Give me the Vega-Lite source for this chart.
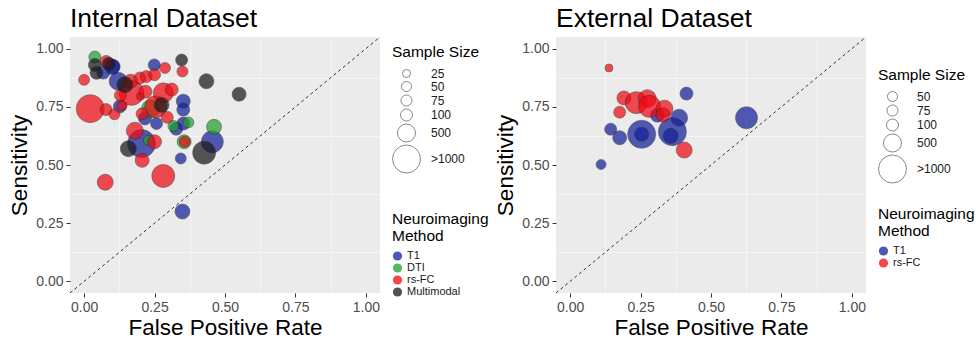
{
  "$schema": "https://vega.github.io/schema/vega-lite/v6.json",
  "padding": {"left": 8, "top": 6, "right": 0, "bottom": 0},
  "config": {
    "font": "Liberation Sans",
    "view": {"fill": "#EBEBEB", "stroke": null},
    "axis": {
      "domain": false, "labelColor": "#4D4D4D", "labelFontSize": 14, "tickColor": "#333333", "tickSize": 4,
      "gridColor": "#FFFFFF", "gridWidth": 1.2, "titleFontSize": 22.5, "titleFontWeight": "normal", "titleColor": "#000000",
      "labelPadding": 3
    },
    "legend": {"titleFontWeight": "normal", "titleColor": "#000000", "labelColor": "#1A1A1A", "padding": 0},
    "title": {"fontWeight": "normal", "color": "#000000"}
  },
  "resolve": {"scale": {"color": "independent", "size": "independent"}, "legend": {"color": "independent", "size": "independent"}},
  "datasets": {
    "diag": [{"x": -0.05, "y": -0.05, "x2": 1.05, "y2": 1.05}],
    "internal": [
      {"fpr": 0.100, "sens": 0.920, "n": 280, "method": "T1"},
      {"fpr": 0.103, "sens": 0.924, "n": 216, "method": "T1"},
      {"fpr": 0.068, "sens": 0.897, "n": 156, "method": "T1"},
      {"fpr": 0.121, "sens": 0.860, "n": 500, "method": "T1"},
      {"fpr": 0.249, "sens": 0.930, "n": 100, "method": "T1"},
      {"fpr": 0.352, "sens": 0.774, "n": 216, "method": "T1"},
      {"fpr": 0.352, "sens": 0.738, "n": 156, "method": "T1"},
      {"fpr": 0.127, "sens": 0.752, "n": 156, "method": "T1"},
      {"fpr": 0.216, "sens": 0.700, "n": 156, "method": "T1"},
      {"fpr": 0.257, "sens": 0.678, "n": 100, "method": "T1"},
      {"fpr": 0.327, "sens": 0.656, "n": 156, "method": "T1"},
      {"fpr": 0.352, "sens": 0.678, "n": 156, "method": "T1"},
      {"fpr": 0.455, "sens": 0.600, "n": 674, "method": "T1"},
      {"fpr": 0.204, "sens": 0.592, "n": 1200, "method": "T1"},
      {"fpr": 0.343, "sens": 0.528, "n": 75, "method": "T1"},
      {"fpr": 0.349, "sens": 0.300, "n": 280, "method": "T1"},
      {"fpr": 0.038, "sens": 0.964, "n": 100, "method": "DTI"},
      {"fpr": 0.236, "sens": 0.742, "n": 500, "method": "DTI"},
      {"fpr": 0.317, "sens": 0.668, "n": 75, "method": "DTI"},
      {"fpr": 0.370, "sens": 0.683, "n": 75, "method": "DTI"},
      {"fpr": 0.461, "sens": 0.664, "n": 280, "method": "DTI"},
      {"fpr": 0.355, "sens": 0.600, "n": 216, "method": "DTI"},
      {"fpr": 0.228, "sens": 0.606, "n": 50, "method": "DTI"},
      {"fpr": 0.078, "sens": 0.945, "n": 100, "method": "rs-FC"},
      {"fpr": 0.000, "sens": 0.866, "n": 75, "method": "rs-FC"},
      {"fpr": 0.168, "sens": 0.810, "n": 827, "method": "rs-FC"},
      {"fpr": 0.200, "sens": 0.795, "n": 25, "method": "rs-FC"},
      {"fpr": 0.129, "sens": 0.800, "n": 100, "method": "rs-FC"},
      {"fpr": 0.165, "sens": 0.860, "n": 216, "method": "rs-FC"},
      {"fpr": 0.198, "sens": 0.874, "n": 100, "method": "rs-FC"},
      {"fpr": 0.221, "sens": 0.880, "n": 100, "method": "rs-FC"},
      {"fpr": 0.250, "sens": 0.888, "n": 100, "method": "rs-FC"},
      {"fpr": 0.287, "sens": 0.917, "n": 75, "method": "rs-FC"},
      {"fpr": 0.349, "sens": 0.902, "n": 75, "method": "rs-FC"},
      {"fpr": 0.022, "sens": 0.742, "n": 1200, "method": "rs-FC"},
      {"fpr": 0.078, "sens": 0.738, "n": 100, "method": "rs-FC"},
      {"fpr": 0.108, "sens": 0.718, "n": 75, "method": "rs-FC"},
      {"fpr": 0.135, "sens": 0.755, "n": 50, "method": "rs-FC"},
      {"fpr": 0.254, "sens": 0.750, "n": 674, "method": "rs-FC"},
      {"fpr": 0.281, "sens": 0.810, "n": 583, "method": "rs-FC"},
      {"fpr": 0.311, "sens": 0.824, "n": 156, "method": "rs-FC"},
      {"fpr": 0.206, "sens": 0.720, "n": 100, "method": "rs-FC"},
      {"fpr": 0.295, "sens": 0.705, "n": 100, "method": "rs-FC"},
      {"fpr": 0.180, "sens": 0.647, "n": 422, "method": "rs-FC"},
      {"fpr": 0.250, "sens": 0.600, "n": 216, "method": "rs-FC"},
      {"fpr": 0.206, "sens": 0.520, "n": 216, "method": "rs-FC"},
      {"fpr": 0.281, "sens": 0.453, "n": 723, "method": "rs-FC"},
      {"fpr": 0.075, "sens": 0.426, "n": 349, "method": "rs-FC"},
      {"fpr": 0.357, "sens": 0.600, "n": 75, "method": "rs-FC"},
      {"fpr": 0.218, "sens": 0.815, "n": 156, "method": "rs-FC"},
      {"fpr": 0.038, "sens": 0.930, "n": 156, "method": "Multimodal"},
      {"fpr": 0.044, "sens": 0.896, "n": 156, "method": "Multimodal"},
      {"fpr": 0.088, "sens": 0.935, "n": 156, "method": "Multimodal"},
      {"fpr": 0.145, "sens": 0.845, "n": 349, "method": "Multimodal"},
      {"fpr": 0.346, "sens": 0.951, "n": 100, "method": "Multimodal"},
      {"fpr": 0.434, "sens": 0.860, "n": 280, "method": "Multimodal"},
      {"fpr": 0.550, "sens": 0.804, "n": 216, "method": "Multimodal"},
      {"fpr": 0.275, "sens": 0.758, "n": 280, "method": "Multimodal"},
      {"fpr": 0.157, "sens": 0.570, "n": 349, "method": "Multimodal"},
      {"fpr": 0.426, "sens": 0.553, "n": 723, "method": "Multimodal"}
    ],
    "external": [
      {"fpr": 0.413, "sens": 0.807, "n": 156, "method": "T1"},
      {"fpr": 0.387, "sens": 0.703, "n": 422, "method": "T1"},
      {"fpr": 0.310, "sens": 0.714, "n": 216, "method": "T1"},
      {"fpr": 0.144, "sens": 0.654, "n": 100, "method": "T1"},
      {"fpr": 0.176, "sens": 0.617, "n": 216, "method": "T1"},
      {"fpr": 0.254, "sens": 0.632, "n": 1000, "method": "T1"},
      {"fpr": 0.254, "sens": 0.632, "n": 216, "method": "T1"},
      {"fpr": 0.363, "sens": 0.643, "n": 1200, "method": "T1"},
      {"fpr": 0.357, "sens": 0.625, "n": 280, "method": "T1"},
      {"fpr": 0.626, "sens": 0.703, "n": 674, "method": "T1"},
      {"fpr": 0.110, "sens": 0.502, "n": 50, "method": "T1"},
      {"fpr": 0.138, "sens": 0.917, "n": 25, "method": "rs-FC"},
      {"fpr": 0.191, "sens": 0.788, "n": 216, "method": "rs-FC"},
      {"fpr": 0.176, "sens": 0.727, "n": 100, "method": "rs-FC"},
      {"fpr": 0.235, "sens": 0.768, "n": 674, "method": "rs-FC"},
      {"fpr": 0.274, "sens": 0.785, "n": 500, "method": "rs-FC"},
      {"fpr": 0.282, "sens": 0.752, "n": 674, "method": "rs-FC"},
      {"fpr": 0.335, "sens": 0.742, "n": 422, "method": "rs-FC"},
      {"fpr": 0.330, "sens": 0.715, "n": 216, "method": "rs-FC"},
      {"fpr": 0.405, "sens": 0.564, "n": 349, "method": "rs-FC"}
    ]
  },
  "bounds": "flush",
  "spacing": 176,
  "hconcat": [
    {
      "width": 310, "height": 256,
      "title": {"text": "Internal Dataset", "anchor": "start", "frame": "group", "fontSize": 26.5, "offset": 4},
      "layer": [
        {
          "data": {"name": "diag"},
          "mark": {"type": "rule", "strokeDash": [3, 3], "color": "#333333", "strokeWidth": 1},
          "encoding": {
            "x": {"field": "x", "type": "quantitative", "scale": {"domain": [-0.05, 1.05], "nice": false, "zero": false},
                  "axis": {"orient": "top", "values": [0.125, 0.375, 0.625, 0.875], "labels": false, "ticks": false, "title": null, "grid": true, "gridWidth": 0.5}},
            "y": {"field": "y", "type": "quantitative", "scale": {"domain": [-0.05, 1.05], "nice": false, "zero": false},
                  "axis": {"orient": "right", "values": [0.125, 0.375, 0.625, 0.875], "labels": false, "ticks": false, "title": null, "grid": true, "gridWidth": 0.5}},
            "x2": {"field": "x2"},
            "y2": {"field": "y2"}
          }
        },
        {
          "data": {"name": "internal"},
          "mark": {"type": "circle", "opacity": 0.72, "stroke": "#222222", "strokeWidth": 0.6},
          "encoding": {
            "x": {"field": "fpr", "type": "quantitative", "scale": {"domain": [-0.05, 1.05], "nice": false, "zero": false},
                  "axis": {"orient": "bottom", "title": "False Positive Rate", "values": [0, 0.25, 0.5, 0.75, 1], "format": ".2f", "titlePadding": 2}},
            "y": {"field": "sens", "type": "quantitative", "scale": {"domain": [-0.05, 1.05], "nice": false, "zero": false},
                  "axis": {"orient": "left", "title": "Sensitivity", "values": [0, 0.25, 0.5, 0.75, 1], "format": ".2f", "titlePadding": 4}},
            "size": {"field": "n", "type": "quantitative",
                     "scale": {"type": "linear", "domain": [25, 50, 75, 100, 500, 1000], "range": [64, 100, 121, 144, 324, 784], "clamp": true},
                     "legend": {"title": "Sample Size", "orient": "none", "legendX": 322, "legendY": 8, "values": [25, 50, 75, 100, 500, 1000],
                                "labelExpr": "datum.value >= 1000 ? '>1000' : datum.label", "symbolType": "circle",
                                "symbolFillColor": "transparent", "symbolStrokeColor": "#555555", "symbolStrokeWidth": 0.7, "symbolOpacity": 1,
                                "titleFontSize": 15.5, "labelFontSize": 12, "rowPadding": 0, "titlePadding": 7, "labelOffset": 10}},
            "color": {"field": "method", "type": "nominal",
                      "scale": {"domain": ["T1", "DTI", "rs-FC", "Multimodal"], "range": ["#14209A", "#20A030", "#F00A14", "#1A1A1A"]},
                      "legend": {"title": ["Neuroimaging", "Method"], "orient": "none", "legendX": 322, "legendY": 175, "symbolType": "circle",
                                 "symbolSize": 85, "symbolStrokeWidth": 0, "symbolOpacity": 0.75, "labelFontSize": 11, "titleFontSize": 15.5,
                                 "rowPadding": 0, "titlePadding": 6, "titleLineHeight": 17}}
          }
        }
      ],
      "resolve": {"axis": {"x": "independent", "y": "independent"}}
    },
    {
      "width": 310, "height": 256,
      "title": {"text": "External Dataset", "anchor": "start", "frame": "group", "fontSize": 26.5, "offset": 4},
      "layer": [
        {
          "data": {"name": "diag"},
          "mark": {"type": "rule", "strokeDash": [3, 3], "color": "#333333", "strokeWidth": 1},
          "encoding": {
            "x": {"field": "x", "type": "quantitative", "scale": {"domain": [-0.05, 1.05], "nice": false, "zero": false},
                  "axis": {"orient": "top", "values": [0.125, 0.375, 0.625, 0.875], "labels": false, "ticks": false, "title": null, "grid": true, "gridWidth": 0.5}},
            "y": {"field": "y", "type": "quantitative", "scale": {"domain": [-0.05, 1.05], "nice": false, "zero": false},
                  "axis": {"orient": "right", "values": [0.125, 0.375, 0.625, 0.875], "labels": false, "ticks": false, "title": null, "grid": true, "gridWidth": 0.5}},
            "x2": {"field": "x2"},
            "y2": {"field": "y2"}
          }
        },
        {
          "data": {"name": "external"},
          "mark": {"type": "circle", "opacity": 0.72, "stroke": "#222222", "strokeWidth": 0.6},
          "encoding": {
            "x": {"field": "fpr", "type": "quantitative", "scale": {"domain": [-0.05, 1.05], "nice": false, "zero": false},
                  "axis": {"orient": "bottom", "title": "False Positive Rate", "values": [0, 0.25, 0.5, 0.75, 1], "format": ".2f", "titlePadding": 2}},
            "y": {"field": "sens", "type": "quantitative", "scale": {"domain": [-0.05, 1.05], "nice": false, "zero": false},
                  "axis": {"orient": "left", "title": "Sensitivity", "values": [0, 0.25, 0.5, 0.75, 1], "format": ".2f", "titlePadding": 4}},
            "size": {"field": "n", "type": "quantitative",
                     "scale": {"type": "linear", "domain": [25, 50, 75, 100, 500, 1000], "range": [64, 100, 121, 144, 324, 784], "clamp": true},
                     "legend": {"title": "Sample Size", "orient": "none", "legendX": 322, "legendY": 31, "values": [50, 75, 100, 500, 1000],
                                "labelExpr": "datum.value >= 1000 ? '>1000' : datum.label", "symbolType": "circle",
                                "symbolFillColor": "transparent", "symbolStrokeColor": "#555555", "symbolStrokeWidth": 0.7, "symbolOpacity": 1,
                                "titleFontSize": 15.5, "labelFontSize": 12, "rowPadding": 0, "titlePadding": 7, "labelOffset": 10}},
            "color": {"field": "method", "type": "nominal",
                      "scale": {"domain": ["T1", "rs-FC"], "range": ["#14209A", "#F00A14"]},
                      "legend": {"title": ["Neuroimaging", "Method"], "orient": "none", "legendX": 322, "legendY": 170, "symbolType": "circle",
                                 "symbolSize": 85, "symbolStrokeWidth": 0, "symbolOpacity": 0.75, "labelFontSize": 11, "titleFontSize": 15.5,
                                 "rowPadding": 0, "titlePadding": 6, "titleLineHeight": 17}}
          }
        }
      ],
      "resolve": {"axis": {"x": "independent", "y": "independent"}}
    }
  ]
}
